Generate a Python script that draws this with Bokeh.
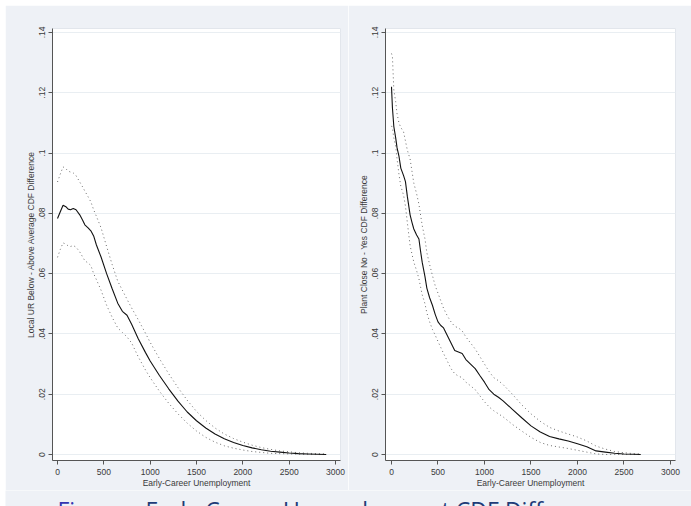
from bokeh.plotting import figure
from bokeh.models import FixedTicker, Range1d, Spacer
from bokeh.layouts import column, row
from bokeh.core.properties import value
from bokeh.embed import file_html
from bokeh.resources import INLINE

# ---------------- data ----------------
x_ticks = [0, 500, 1000, 1500, 2000, 2500, 3000]
y_ticks = [0, 0.02, 0.04, 0.06, 0.08, 0.1, 0.12, 0.14]
y_tick_labels = ["0", ".02", ".04", ".06", ".08", ".1", ".12", ".14"]
x_title = "Early-Career Unemployment"
left_y_title = "Local UR Below - Above Average CDF Difference"
right_y_title = "Plant Close No - Yes CDF Difference"
caption_label = "Figure:"
caption_text = "Early-Career Unemployment CDF Difference"

ur_x = [0, 30, 60, 90, 115, 140, 170, 200, 240, 270, 295, 330, 360, 390, 420, 470,
        530, 590, 650, 700, 750, 800, 870, 950, 1000, 1100, 1200, 1300, 1400, 1500,
        1600, 1700, 1800, 1900, 2000, 2100, 2200, 2300, 2400, 2500, 2600, 2700, 2800, 2900]
ur_est = [0.0783, 0.0805, 0.0827, 0.0822, 0.0814, 0.0812, 0.0816, 0.0812, 0.0795, 0.0778,
          0.0762, 0.0752, 0.0742, 0.0725, 0.0695, 0.0655, 0.0600, 0.0550, 0.0502, 0.0475,
          0.0462, 0.0432, 0.0385, 0.0338, 0.0310, 0.0262, 0.0218, 0.0177, 0.0141, 0.0112,
          0.0088, 0.0068, 0.0052, 0.0040, 0.0030, 0.0022, 0.0016, 0.0011, 0.0008, 0.0005,
          0.0003, 0.0002, 0.0001, 0.0000]
ur_hi = [0.0904, 0.0930, 0.0954, 0.0948, 0.0940, 0.0937, 0.0934, 0.0925, 0.0904, 0.0888,
         0.0874, 0.0855, 0.0838, 0.0812, 0.0790, 0.0752, 0.0690, 0.0630, 0.0575, 0.0545,
         0.0515, 0.0486, 0.0448, 0.0402, 0.0372, 0.0318, 0.0268, 0.0222, 0.0180, 0.0143,
         0.0113, 0.0088, 0.0068, 0.0053, 0.0041, 0.0031, 0.0023, 0.0017, 0.0012, 0.0009,
         0.0006, 0.0004, 0.0003, 0.0002]
ur_lo = [0.0654, 0.0680, 0.0702, 0.0698, 0.0692, 0.0690, 0.0693, 0.0688, 0.0672, 0.0656,
         0.0643, 0.0635, 0.0627, 0.0600, 0.0580, 0.0545, 0.0495, 0.0455, 0.0420, 0.0405,
         0.0390, 0.0370, 0.0325, 0.0280, 0.0255, 0.0210, 0.0170, 0.0135, 0.0104, 0.0078,
         0.0057, 0.0041, 0.0029, 0.0021, 0.0015, 0.0010, 0.0007, 0.0004, 0.0003, 0.0002,
         0.0001, 0.0000, 0.0000, 0.0000]

pc_x = [0, 10, 25, 45, 60, 80, 100, 130, 150, 170, 200, 220, 240, 270, 295, 310, 330,
        360, 380, 410, 440, 470, 500, 530, 560, 600, 640, 680, 720, 760, 800, 850, 900,
        950, 1000, 1050, 1100, 1150, 1200, 1300, 1400, 1500, 1600, 1700, 1800, 1900,
        2000, 2100, 2200, 2300, 2400, 2500, 2600, 2680]
pc_est = [0.1220, 0.1150, 0.1088, 0.1050, 0.1017, 0.0990, 0.0950, 0.0925, 0.0905, 0.0857,
          0.0795, 0.0770, 0.0748, 0.0728, 0.0715, 0.0680, 0.0638, 0.0590, 0.0552, 0.0520,
          0.0495, 0.0465, 0.0440, 0.0428, 0.0420, 0.0395, 0.0370, 0.0345, 0.0340, 0.0335,
          0.0315, 0.0300, 0.0285, 0.0262, 0.0240, 0.0215, 0.0200, 0.0190, 0.0178, 0.0150,
          0.0122, 0.0095, 0.0075, 0.0060, 0.0052, 0.0045, 0.0036, 0.0026, 0.0012, 0.0008,
          0.0004, 0.0002, 0.0001, 0.0000]
pc_hi = [0.1330, 0.1320, 0.1210, 0.1170, 0.1130, 0.1100, 0.1085, 0.1070, 0.1040, 0.1010,
         0.0980, 0.0940, 0.0900, 0.0865, 0.0830, 0.0800, 0.0760, 0.0715, 0.0670, 0.0630,
         0.0594, 0.0560, 0.0535, 0.0510, 0.0485, 0.0460, 0.0440, 0.0425, 0.0420, 0.0410,
         0.0390, 0.0370, 0.0350, 0.0325, 0.0300, 0.0275, 0.0255, 0.0245, 0.0232, 0.0200,
         0.0165, 0.0135, 0.0110, 0.0090, 0.0078, 0.0068, 0.0058, 0.0045, 0.0028, 0.0018,
         0.0010, 0.0006, 0.0003, 0.0002]
pc_lo = [0.1090, 0.1083, 0.1050, 0.1022, 0.0980, 0.0930, 0.0890, 0.0860, 0.0824, 0.0770,
         0.0693, 0.0665, 0.0638, 0.0610, 0.0583, 0.0560, 0.0530, 0.0500, 0.0470, 0.0440,
         0.0415, 0.0396, 0.0375, 0.0355, 0.0335, 0.0310, 0.0285, 0.0268, 0.0260, 0.0255,
         0.0240, 0.0228, 0.0215, 0.0195, 0.0175, 0.0158, 0.0145, 0.0135, 0.0125, 0.0100,
         0.0078, 0.0057, 0.0040, 0.0030, 0.0025, 0.0020, 0.0014, 0.0008, 0.0002, 0.0000,
         0.0000, 0.0000, 0.0000, 0.0000]

# ---------------- style ----------------
BG = "#EEF1F6"
TXT = "#3a3a3a"
AX = "#555555"
FONT = "Liberation Sans"


def panel(width, bl, br, xr, xs, est, lo, hi, ytitle):
    p = figure(width=width, height=485, output_backend="svg", toolbar_location=None,
               x_range=Range1d(*xr), y_range=Range1d(-0.00198, 0.1413),
               min_border_left=bl, min_border_right=br,
               min_border_top=23, min_border_bottom=27)
    p.background_fill_color = "white"
    p.border_fill_color = BG
    p.outline_line_color = "#E2E6EC"

    p.xgrid.visible = False
    p.ygrid.ticker = FixedTicker(ticks=y_ticks)
    p.ygrid.grid_line_color = "#E9EEF2"

    for ax in (p.xaxis[0], p.yaxis[0]):
        ax.axis_line_color = AX
        ax.major_tick_line_color = AX
        ax.major_tick_out = 4
        ax.major_tick_in = 0
        ax.minor_tick_line_color = None
        ax.major_label_text_font = FONT
        ax.major_label_text_font_size = "8.5px"
        ax.major_label_text_color = TXT
        ax.axis_label_text_font = FONT
        ax.axis_label_text_font_size = "8.5px"
        ax.axis_label_text_font_style = "normal"
        ax.axis_label_text_color = TXT

    p.xaxis.ticker = FixedTicker(ticks=x_ticks)
    p.xaxis.axis_label = x_title
    p.xaxis.major_label_standoff = 4
    p.xaxis.axis_label_standoff = 0

    p.yaxis.ticker = FixedTicker(ticks=y_ticks)
    p.yaxis.major_label_overrides = dict(zip(y_ticks, y_tick_labels))
    p.yaxis.major_label_orientation = "vertical"
    p.yaxis.axis_label = ytitle
    p.yaxis.major_label_standoff = 3
    p.yaxis.axis_label_standoff = 1

    p.line(xs, hi, line_color="#6a6a6a", line_width=1, line_dash="1 3")
    p.line(xs, lo, line_color="#6a6a6a", line_width=1, line_dash="1 3")
    p.line(xs, est, line_color="#111111", line_width=1.1)
    return p


left = panel(343, 47, 8, (-54, 3054), ur_x, ur_est, ur_lo, ur_hi, left_y_title)
right = panel(343, 37, 16, (-64.5, 3054), pc_x, pc_est, pc_lo, pc_hi, right_y_title)

strip = figure(width=686, height=16, output_backend="svg", toolbar_location=None,
               x_range=Range1d(0, 686), y_range=Range1d(0, 16),
               x_axis_type=None, y_axis_type=None, min_border=0)
strip.background_fill_color = BG
strip.border_fill_color = BG
strip.outline_line_color = None
strip.xgrid.visible = False
strip.ygrid.visible = False
strip.text(x=[52], y=[12.9], text=[caption_label], text_baseline="top",
           text_font=value("Open Sans"), text_font_size="23px", text_color="#3434B0")
strip.text(x=[140], y=[12.9], text=[caption_text], text_baseline="top",
           text_font=value("Open Sans"), text_font_size="23px", text_color="#1E3C78")

body = column(row(left, right), strip)
layout = column(Spacer(width=691, height=5),
                row(Spacer(width=5, height=501), body))
open("out.html", "w").write(file_html(layout, INLINE))
